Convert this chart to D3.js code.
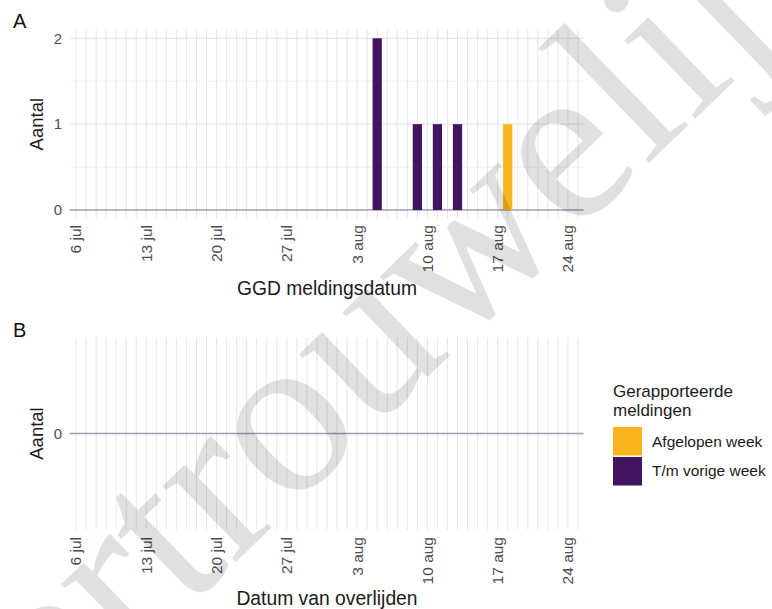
<!DOCTYPE html>
<html>
<head>
<meta charset="utf-8">
<script src="https://cdn.jsdelivr.net/npm/d3@7"></script>
<style>
  html, body { margin: 0; padding: 0; background: #fff; }
  svg { display: block; font-family: "Liberation Sans", Arial, sans-serif; }
</style>
</head>
<body>
<svg id="chart" width="772" height="609"></svg>
<script>
// ---------- data ----------
const firstDay = "2020-07-06";
const lastDay = "2020-08-25";
const tickDates = ["2020-07-06","2020-07-13","2020-07-20","2020-07-27","2020-08-03","2020-08-10","2020-08-17","2020-08-24"];
const tickLabels = ["6 jul","13 jul","20 jul","27 jul","3 aug","10 aug","17 aug","24 aug"];

// Panel A: GGD meldingsdatum
const meldDates  = ["2020-08-05","2020-08-09","2020-08-11","2020-08-13","2020-08-18"];
const meldCounts = [2, 1, 1, 1, 1];
const meldGroup  = ["T/m vorige week","T/m vorige week","T/m vorige week","T/m vorige week","Afgelopen week"];

// Panel B: Datum van overlijden (no reports)
const deathDates  = [];
const deathCounts = [];
const deathGroup  = [];

const yTicksA = [0, 1, 2];
const yMinorA = [0.5, 1.5];
const yTicksB = [0];

const legendTitle = ["Gerapporteerde", "meldingen"];
const legendKeys = ["Afgelopen week", "T/m vorige week"];
const legendColors = ["#f9b51c", "#42145f"];

// ---------- setup ----------
const parse = d3.utcParse("%Y-%m-%d");
const DAY = 864e5;
const svg = d3.select("#chart");
const color = d3.scaleOrdinal().domain(legendKeys).range(legendColors);

const x = d3.scaleUtc()
  .domain([new Date(+parse(firstDay) - 0.55 * DAY), new Date(+parse(lastDay) + 0.55 * DAY)])
  .range([70.5, 583.5]);
const allDays = d3.utcDay.range(parse(firstDay), new Date(+parse(lastDay) + DAY));

function panel(opts) {
  const { y, yTicks, yMinor, dates, counts, groups, tickTop, title, titleY, letter, letterY } = opts;
  const g = svg.append("g");
  const [yBot, yTop] = y.range();

  // vertical daily grid
  g.selectAll(".vg").data(allDays).join("line")
    .attr("x1", d => x(d)).attr("x2", d => x(d))
    .attr("y1", yTop).attr("y2", yBot)
    .attr("stroke", "#e6e6e6").attr("stroke-width", 1);

  // horizontal grid
  g.selectAll(".hm").data(yMinor).join("line")
    .attr("x1", x.range()[0]).attr("x2", x.range()[1])
    .attr("y1", d => y(d)).attr("y2", d => y(d))
    .attr("stroke", "#eeeeee").attr("stroke-width", 1);
  g.selectAll(".hM").data(yTicks.filter(d => d !== 0)).join("line")
    .attr("x1", x.range()[0]).attr("x2", x.range()[1])
    .attr("y1", d => y(d)).attr("y2", d => y(d))
    .attr("stroke", "#e6e6e6").attr("stroke-width", 1.2);

  // zero line
  g.append("line")
    .attr("x1", x.range()[0] - 1).attr("x2", x.range()[1])
    .attr("y1", y(0)).attr("y2", y(0))
    .attr("stroke", "#a09eb0").attr("stroke-width", 1.4);

  // bars
  const rows = dates.map((d, i) => ({ date: parse(d), n: counts[i], grp: groups[i] }));
  g.selectAll(".bar").data(rows).join("rect")
    .attr("x", d => x(new Date(+d.date - 0.46 * DAY)))
    .attr("width", d => x(new Date(+d.date + 0.46 * DAY)) - x(new Date(+d.date - 0.46 * DAY)))
    .attr("y", d => y(d.n))
    .attr("height", d => y(0) - y(d.n))
    .attr("fill", d => color(d.grp));

  // y tick labels
  g.selectAll(".yt").data(yTicks).join("text")
    .attr("x", 62).attr("y", d => y(d)).attr("dy", "0.35em")
    .attr("text-anchor", "end")
    .attr("font-size", 15).attr("fill", "#4d4d4d")
    .text(d => d);

  // x tick labels
  g.selectAll(".xt").data(tickDates).join("text")
    .attr("transform", d => `translate(${x(parse(d))},${tickTop}) rotate(-90)`)
    .attr("text-anchor", "end").attr("dy", "0.35em")
    .attr("font-size", 15.5).attr("fill", "#4d4d4d")
    .text((d, i) => tickLabels[i]);

  // y title
  g.append("text")
    .attr("transform", `translate(43,${(yTop + yBot) / 2}) rotate(-90)`)
    .attr("text-anchor", "middle")
    .attr("font-size", 18.5).attr("fill", "#1a1a1a")
    .text("Aantal");

  // x title
  g.append("text")
    .attr("x", (x.range()[0] + x.range()[1]) / 2).attr("y", titleY)
    .attr("text-anchor", "middle")
    .attr("font-size", 19.3).attr("fill", "#1a1a1a")
    .text(title);

  // panel letter
  g.append("text")
    .attr("x", 13).attr("y", letterY)
    .attr("font-size", 20).attr("fill", "#111")
    .text(letter);
}

const yA = d3.scaleLinear().domain([-0.1, 2.1]).range([218.6, 29.7]);
const yB = d3.scaleLinear().domain([-1, 1]).range([529.5, 337.5]);

panel({ y: yA, yTicks: yTicksA, yMinor: yMinorA, dates: meldDates, counts: meldCounts, groups: meldGroup,
        tickTop: 225, title: "GGD meldingsdatum", titleY: 295, letter: "A", letterY: 28 });
panel({ y: yB, yTicks: yTicksB, yMinor: [], dates: deathDates, counts: deathCounts, groups: deathGroup,
        tickTop: 537, title: "Datum van overlijden", titleY: 605, letter: "B", letterY: 337 });

// legend
const lg = svg.append("g").attr("transform", "translate(613,0)");
lg.selectAll(".lt").data(legendTitle).join("text")
  .attr("x", 0).attr("y", (d, i) => 397 + i * 19)
  .attr("font-size", 17).attr("fill", "#1a1a1a")
  .text(d => d);
lg.selectAll(".lk").data(legendKeys).join("rect")
  .attr("x", 0).attr("y", (d, i) => 427 + i * 30)
  .attr("width", 29).attr("height", 28.5)
  .attr("fill", d => color(d));
lg.selectAll(".ll").data(legendKeys).join("text")
  .attr("x", 39).attr("y", (d, i) => 441.5 + i * 29)
  .attr("dy", "0.35em")
  .attr("font-size", 15.5).attr("fill", "#1a1a1a")
  .text(d => d);

// watermark
svg.append("text")
  .attr("transform", "translate(-25,814) rotate(-44)")
  .attr("font-family", "'Liberation Serif', 'Times New Roman', serif")
  .attr("font-size", 230)
  .attr("fill", "#000").attr("fill-opacity", 0.12)
  .text("vertrouwelijk");
</script>
</body>
</html>
